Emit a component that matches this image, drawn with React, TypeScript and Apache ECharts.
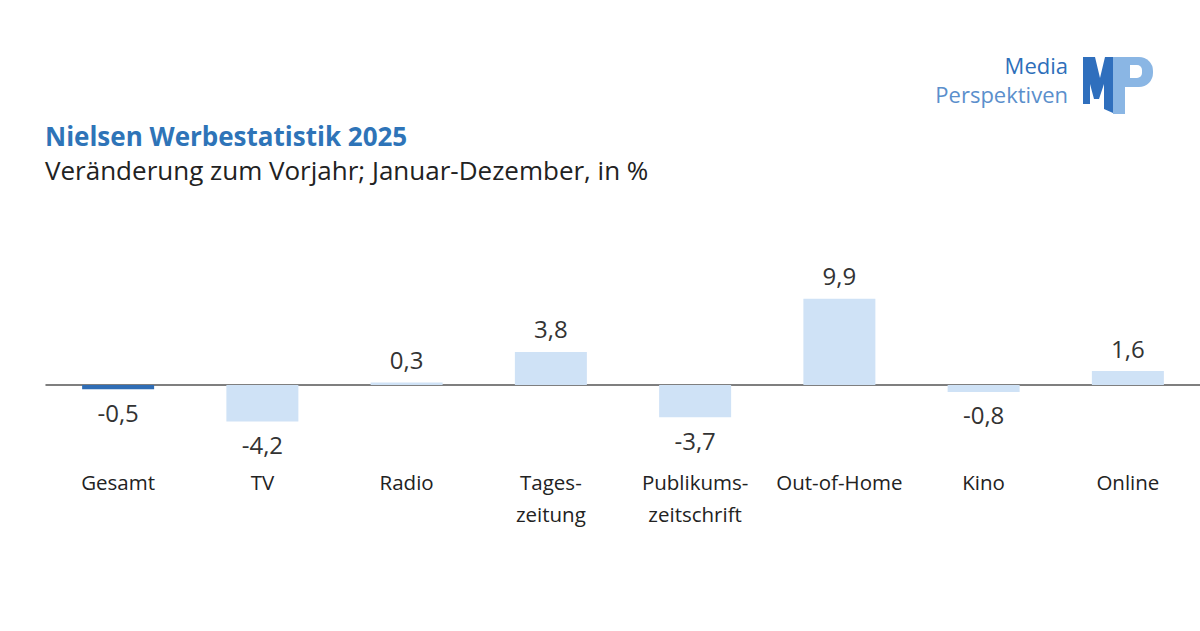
import React, { useEffect, useRef } from "react";
import * as echarts from "echarts";

const categories = ["Gesamt", "TV", "Radio", "Tages-\nzeitung", "Publikums-\nzeitschrift", "Out-of-Home", "Kino", "Online"];
const values = [-0.5, -4.2, 0.3, 3.8, -3.7, 9.9, -0.8, 1.6];
const highlightIndex = 0;

const FONT = "'Open Sans', 'Noto Sans', sans-serif";

export default function App() {
  const ref = useRef<HTMLDivElement>(null);
  useEffect(() => {
    document.body.style.margin = "0";
    const chart = echarts.init(ref.current!, null, { renderer: "svg" });
    const fmt = (v: number) => String(v).replace(".", ",");
    const data = values.map((v, i) => ({
      value: v,
      itemStyle: { color: i === highlightIndex ? "#2f6db5" : "#cfe2f6" },
      label: {
        show: true,
        position: v >= 0 ? "top" : "bottom",
        distance: 11,
        formatter: () => fmt(v),
        color: "#333",
        fontSize: 24,
        fontFamily: FONT,
      },
    }));
    chart.setOption({
      animation: false,
      backgroundColor: "#fff",
      grid: { left: 46, right: -2, top: 280.6, bottom: 176.4, containLabel: false },
      xAxis: {
        type: "category",
        data: categories,
        axisLine: { show: true, onZero: true, lineStyle: { color: "#555", width: 1.5 } },
        axisTick: { show: false },
        axisLabel: {
          margin: 11,
          fontSize: 20.5,
          lineHeight: 32,
          color: "#222",
          fontFamily: FONT,
          interval: 0,
        },
      },
      yAxis: {
        type: "value",
        min: -8,
        max: 12,
        show: false,
        splitLine: { show: false },
      },
      series: [
        {
          type: "bar",
          data,
          barWidth: 72,
        },
      ],
      graphic: [
        {
          type: "text",
          x: 45,
          y: 136,
          style: { text: "Nielsen Werbestatistik 2025", fontSize: 26, lineHeight: 26, fontWeight: "bold", fill: "#2e74b8", fontFamily: FONT, verticalAlign: "middle" },
        },
        {
          type: "text",
          x: 45,
          y: 170,
          style: { text: "Veränderung zum Vorjahr; Januar-Dezember, in %", fontSize: 26, lineHeight: 26, fill: "#222", fontFamily: FONT, verticalAlign: "middle" },
        },
        {
          type: "text",
          x: 1068,
          y: 65,
          style: { text: "Media", fontSize: 22, lineHeight: 22, fill: "#2e6fba", fontFamily: FONT, align: "right", verticalAlign: "middle" },
        },
        {
          type: "text",
          x: 1068,
          y: 94,
          style: { text: "Perspektiven", fontSize: 22, lineHeight: 22, fill: "#5b8fcc", fontFamily: FONT, align: "right", verticalAlign: "middle" },
        },
        {
          type: "polygon",
          shape: {
            points: [
              [1083, 57], [1095, 57], [1100, 78], [1105, 57], [1113, 57],
              [1113, 113], [1104, 109], [1104, 84], [1099, 99], [1094, 99], [1090, 84], [1090, 104], [1083, 104],
            ],
          },
          style: { fill: "#2f6fbd" },
        },
        {
          type: "rect",
          shape: { x: 1113, y: 57, width: 40, height: 30, r: [0, 14, 14, 0] },
          style: { fill: "#8ab6e4" },
        },
        {
          type: "rect",
          shape: { x: 1113, y: 57, width: 12, height: 57 },
          style: { fill: "#8ab6e4" },
        },
        {
          type: "rect",
          shape: { x: 1130, y: 65, width: 12, height: 13, r: [0, 5, 5, 0] },
          style: { fill: "#ffffff" },
        },
      ],
    });
    return () => chart.dispose();
  }, []);
  return <div ref={ref} style={{ width: 1200, height: 631 }} />;
}
